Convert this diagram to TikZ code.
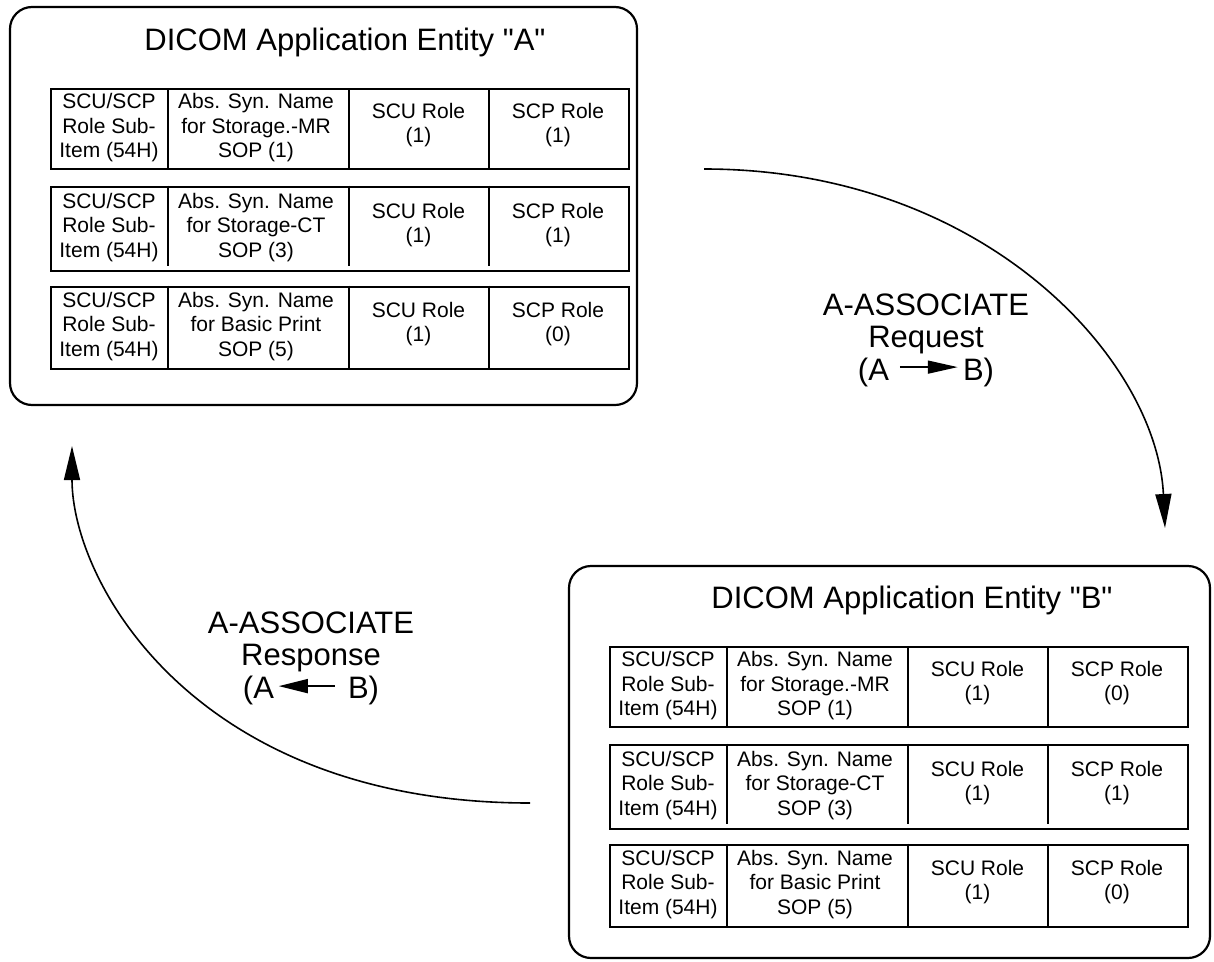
\documentclass[tikz,border=0pt]{standalone}
\usepackage{fontspec}
\setmainfont{Liberation Sans}
\newfontfamily\qfont{Liberation Sans}
\usetikzlibrary{arrows.meta}
\tikzset{
  entity/.style={draw, line width=2.2pt, rounded corners=22pt, inner sep=0pt},
  titletext/.style={font=\qfont\fontsize{31}{36}\selectfont, inner sep=0pt, anchor=base},
  rowbox/.style={draw, line width=2.2pt, inner sep=0pt, anchor=north west},
  divider/.style={line width=2pt},
  celltext/.style={font=\fontsize{21}{24.5}\selectfont, align=center, inner sep=0pt},
  assoc/.style={font=\fontsize{31}{32.5}\selectfont, align=center, inner sep=0pt},
  flow/.style={line width=1.6pt, -{Triangle[length=34pt,width=16pt]}},
}
\newcommand\ArrR{\tikz[baseline=0pt]\draw[line width=1.6pt,-{Triangle[length=30pt,width=13pt]}] (0pt,13pt) -- (58pt,13pt);}
\newcommand\ArrL{\tikz[baseline=0pt]\draw[line width=1.6pt,-{Triangle[length=29pt,width=14pt]}] (56pt,12pt) -- (0pt,12pt);}
% #1 prefix, #2 shift, #3 #4 #5 SCP role values
\newcommand\roletable[5]{%
  \begin{scope}[shift={(#2)}]
    \node[rowbox, minimum width=578pt, minimum height=80pt] (#1r1) at (0,0) {};
    \node[rowbox, minimum width=578pt, minimum height=84pt] (#1r2) at (0,97.5) {};
    \node[rowbox, minimum width=578pt, minimum height=82.5pt] (#1r3) at (0,197.5) {};
    \foreach \xx in {118,299,438.5} {
      \draw[divider] (\xx,0) -- (\xx,80);
      \draw[divider] (\xx,97.5) -- (\xx,177.5);
      \draw[divider] (\xx,197.5) -- (\xx,280);
    }
    \node[celltext] (#1t11) at (59,40) {SCU/SCP\\Role Sub-\\Item (54H)};
    \node[celltext] (#1t12) at (206,40) {Abs. Syn. Name\\for Storage.-MR\\SOP (1)};
    \node[celltext] (#1t13) at (368.5,37) {SCU Role\\(1)};
    \node[celltext] (#1t14) at (508,37) {SCP Role\\(#3)};
    \node[celltext] (#1t21) at (59,139.5) {SCU/SCP\\Role Sub-\\Item (54H)};
    \node[celltext] (#1t22) at (206,139.5) {Abs. Syn. Name\\for Storage-CT\\SOP (3)};
    \node[celltext] (#1t23) at (368.5,137) {SCU Role\\(1)};
    \node[celltext] (#1t24) at (508,137) {SCP Role\\(#4)};
    \node[celltext] (#1t31) at (59,238.5) {SCU/SCP\\Role Sub-\\Item (54H)};
    \node[celltext] (#1t32) at (206,238.5) {Abs. Syn. Name\\for Basic Print\\SOP (5)};
    \node[celltext] (#1t33) at (368.5,236) {SCU Role\\(1)};
    \node[celltext] (#1t34) at (508,236) {SCP Role\\(#5)};
  \end{scope}}
\begin{document}
\begin{tikzpicture}[x=1pt, y=-1pt]
  \useasboundingbox (0,0) rectangle (1214,961);
  % Entity A
  \node[entity, minimum width=627pt, minimum height=398pt] (boxA) at (323.5,206) {};
  \node[titletext] (titleA) at (345,50) {DICOM Application Entity "A"};
  \roletable{A}{50,88}{1}{1}{0}
  % Entity B
  \node[entity, minimum width=641pt, minimum height=392pt] (boxB) at (889.5,762) {};
  \node[titletext] (titleB) at (912,608) {DICOM Application Entity "B"};
  \roletable{B}{609,646}{0}{1}{0}
  % Request
  \coordinate (reqS) at (704,169);
  \coordinate (reqE) at (1165,528);
  \draw[flow] (reqS) .. controls (985,169) and (1157,360) .. (reqE);
  \node[assoc] (reqL) at (926,340) {A-ASSOCIATE\\Request\\(A\hspace{10pt}\ArrR\hspace{4.5pt}B)};
  % Response
  \coordinate (resS) at (530,803);
  \coordinate (resE) at (72,446);
  \draw[flow] (resS) .. controls (194,803) and (72,582) .. (resE);
  \node[assoc] (resL) at (311,658) {A-ASSOCIATE\\Response\\(A\hspace{4pt}\ArrL\hspace{12.5pt}B)};
\end{tikzpicture}
\end{document}
